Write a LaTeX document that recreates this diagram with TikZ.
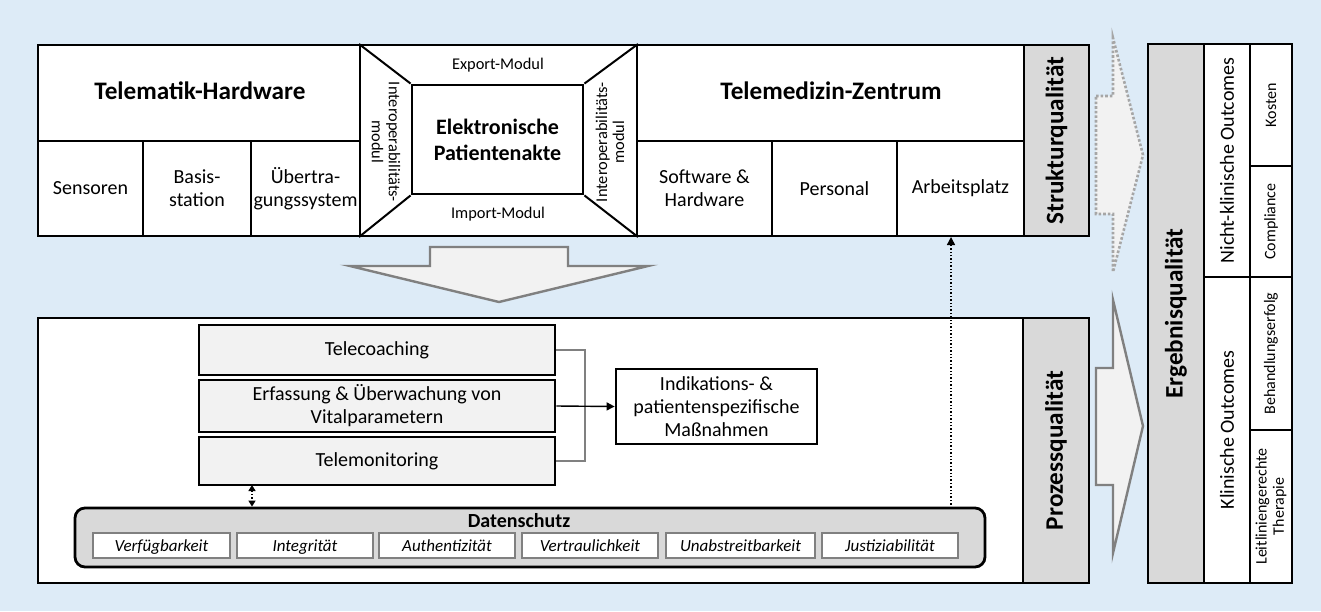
\documentclass[tikz,border=0pt]{standalone}
\usepackage{fontspec}
\setmainfont{Carlito}
\usetikzlibrary{arrows.meta, positioning, fit}
\definecolor{bgblue}{RGB}{221,235,247}
\definecolor{colgray}{RGB}{217,217,217}
\definecolor{arrowfill}{RGB}{242,242,242}
\definecolor{arrowline}{RGB}{128,128,128}

\begin{document}
\begin{tikzpicture}[
  x=0.5pt, y=-0.5pt,
  cell/.style={draw, line width=1pt, fill=white, inner sep=0pt},
  frame/.style={draw, line width=1.4pt, inner sep=0pt},
  txt/.style={align=center, inner sep=0pt, font=\fontsize{10}{11.5}\selectfont},
  head/.style={inner sep=0pt, font=\fontsize{12.6}{15}\selectfont\bfseries},
  qual/.style={rotate=90, inner sep=0pt, font=\fontsize{12.6}{15}\selectfont\bfseries},
  vtext/.style={txt, rotate=90},
  vsmall/.style={rotate=90, align=center, inner sep=0pt, font=\fontsize{8}{8.6}\selectfont},
  modlabel/.style={align=center, inner sep=0pt, font=\fontsize{8.2}{8.6}\selectfont},
  procbox/.style={draw, line width=1.4pt, fill=arrowfill, inner sep=0pt},
  prop/.style={draw=gray, line width=0.6pt, fill=white, inner sep=0pt},
  proptext/.style={inner sep=0pt, text height=1.6ex, text depth=0.4ex,
                   font=\fontsize{8.5}{10}\selectfont\itshape},
  bigarrow/.style={draw=arrowline, line width=1.2pt, fill=arrowfill, line join=miter},
  tip/.style={-{Triangle[length=4pt, width=4pt]}}
]
% background
\fill[bgblue] (0,0) rectangle (1321,611);

% transition arrows
\draw[bigarrow] (430,247) -- (568,247) -- (568,266) -- (648,266) -- (499,302)
  -- (350,266) -- (430,266) -- cycle;
\draw[draw=arrowline!70, densely dotted, line width=1.3pt, fill=arrowfill]
  (1096,96) -- (1113,96) -- (1113,38) -- (1143,155) -- (1113,272)
  -- (1113,214) -- (1096,214) -- cycle;
\draw[bigarrow] (1096,368) -- (1113,368) -- (1113,300) -- (1143,426)
  -- (1113,553) -- (1113,485) -- (1096,485) -- cycle;

% Strukturqualitaet
\node[cell, fit={(38,45)(360,141)}] (thw) {};
\node[head] (thwtxt) at (200,91) {Telematik-Hardware};
\node[cell, fit={(38,141)(143,236)}] (sens) {};
\node[txt] (senstxt) at (sens) {Sensoren};
\node[cell, fit={(143,141)(251,236)}] (basis) {};
\node[txt] (basistxt) at (basis) {Basis-\\station};
\node[cell, fit={(251,141)(360,236)}] (uebert) {};
\node[txt] (ueberttxt) at (uebert) {Übertra-\\gungssystem};

\node[cell, fit={(360,45)(637,236)}] (epaout) {};
\node[frame, fill=white, fit={(412,85)(583,194)}] (epa) {};
\node[txt, font=\fontsize{11}{13}\selectfont\bfseries] (epatxt) at (epa)
  {Elektronische\\Patientenakte};
\draw[line width=1pt] (epaout.north west) -- (epa.north west);
\draw[line width=1pt] (epaout.north east) -- (epa.north east);
\draw[line width=1pt] (epaout.south west) -- (epa.south west);
\draw[line width=1pt] (epaout.south east) -- (epa.south east);
\node[modlabel] (expmod) at (498,65) {Export-Modul};
\node[modlabel] (impmod) at (498,214) {Import-Modul};
\node[modlabel, rotate=-90] (interl) at (386,142) {Interoperabilitäts-\\modul};
\node[modlabel, rotate=90] (interr) at (610,142) {Interoperabilitäts-\\modul};

\node[cell, fit={(637,45)(1024,141)}] (tmz) {};
\node[head] (tmztxt) at (831,91) {Telemedizin-Zentrum};
\node[cell, fit={(637,141)(772,236)}] (swhw) {};
\node[txt] (swhwtxt) at (swhw) {Software \&\\Hardware};
\node[cell, fit={(772,141)(897,236)}] (pers) {};
\node[txt] (perstxt) at (pers) {Personal};
\node[cell, fit={(897,141)(1024,236)}] (arb) {};
\node[txt] (arbtxt) at (arb) {Arbeitsplatz};
\node[frame, fill=colgray, fit={(1024,45)(1089,236)}] (strukcol) {};
\node[qual] (struktxt) at (strukcol) {Strukturqualität};
\node[frame, fit={(38,45)(1089,236)}] (strukpanel) {};

% Prozessqualitaet
\node[frame, fill=white, fit={(38,318)(1089,583)}] (prozpanel) {};
\node[frame, fill=colgray, fit={(1023,318)(1089,583)}] (prozcol) {};
\node[qual] (proztxt) at (prozcol) {Prozessqualität};

\node[procbox, fit={(199,325)(555,375)}] (tcoach) {};
\node[txt] (tcoachtxt) at (tcoach) {Telecoaching};
\node[procbox, fit={(199,380)(555,432)}] (erf) {};
\node[txt] (erftxt) at (erf) {Erfassung \& Überwachung von\\Vitalparametern};
\node[procbox, fit={(199,437)(555,485)}] (tmon) {};
\node[txt] (tmontxt) at (tmon) {Telemonitoring};
\node[procbox, fill=white, fit={(616,369)(817,444)}] (indik) {};
\node[txt] (indiktxt) at (indik) {Indikations- \&\\patientenspezifische\\Maßnahmen};

\coordinate (join) at (585,407);
\draw[gray, line width=0.6pt] (tcoach.east) -| (join) |- (tmon.east);
\draw[line width=0.7pt, tip] (erf.east) -- (indik.west);

\node[frame, fill=colgray, rounded corners=5pt, fit={(75,508)(985,567)}] (dschutz) {};
\node[font=\fontsize{10}{11}\selectfont\bfseries, inner sep=0pt] (dstitle) at (519,521) {Datenschutz};
\node[prop, fit={(93,533)(230,558)}] (verf) {};
\node[proptext] (verftxt) at (verf) {Verfügbarkeit};
\node[prop, fit={(237,533)(373,558)}] (integ) {};
\node[proptext] (integtxt) at (integ) {Integrität};
\node[prop, fit={(379,533)(515,558)}] (authent) {};
\node[proptext] (authenttxt) at (authent) {Authentizität};
\node[prop, fit={(522,533)(658,558)}] (vertr) {};
\node[proptext] (vertrtxt) at (vertr) {Vertraulichkeit};
\node[prop, fit={(666,533)(815,558)}] (unabst) {};
\node[proptext] (unabsttxt) at (unabst) {Unabstreitbarkeit};
\node[prop, fit={(822,533)(958,558)}] (justiz) {};
\node[proptext] (justiztxt) at (justiz) {Justiziabilität};

\coordinate (tmfoot) at (252,485);
\draw[densely dotted, line width=0.7pt,
      {Triangle[length=3pt, width=3.5pt]}-{Triangle[length=3pt, width=3.5pt]}]
  (tmfoot) -- (tmfoot |- dschutz.north);
\coordinate (dsfoot) at (951,508);
\draw[densely dotted, line width=0.7pt, tip] (dsfoot) -- (dsfoot |- arb.south);

% Ergebnisqualitaet
\node[frame, fill=colgray, fit={(1148,44)(1204,583)}] (ergcol) {};
\node[qual] (ergtxt) at (ergcol) {Ergebnisqualität};
\node[frame, fill=white, fit={(1204,44)(1250,277)}] (nklin) {};
\node[vtext] (nklintxt) at (nklin) {Nicht-klinische Outcomes};
\node[frame, fill=white, fit={(1204,277)(1250,583)}] (klin) {};
\node[vtext] (klintxt) at (klin) {Klinische Outcomes};
\node[frame, fill=white, fit={(1250,44)(1292,166)}] (kost) {};
\node[vsmall] (kosttxt) at (kost) {Kosten};
\node[frame, fill=white, fit={(1250,166)(1292,277)}] (compl) {};
\node[vsmall] (compltxt) at (compl) {Compliance};
\node[frame, fill=white, fit={(1250,277)(1292,430)}] (behand) {};
\node[vsmall] (behandtxt) at (behand) {Behandlungserfolg};
\node[frame, fill=white, fit={(1250,430)(1292,583)}] (leit) {};
\node[vsmall] (leittxt) at (leit) {Leitliniengerechte\\Therapie};
\node[frame, fit={(1148,44)(1292,583)}] (ergpanel) {};
\end{tikzpicture}
\end{document}
